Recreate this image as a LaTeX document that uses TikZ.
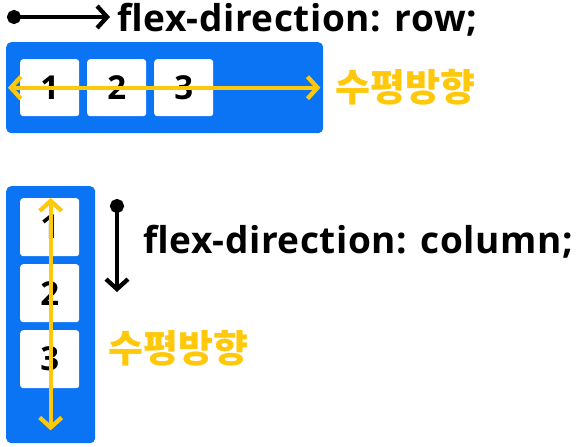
\documentclass[tikz,border=0pt]{standalone}
\usepackage{fontspec}
\setmainfont{Open Sans}[LetterSpace=1.5]
\newfontfamily\digitfont{Open Sans}
\newfontfamily\krfont{Noto Sans CJK KR}
\usetikzlibrary{arrows.meta,positioning}
\definecolor{flexblue}{RGB}{10,116,245}
\definecolor{flexyellow}{RGB}{255,200,10}

\begin{document}
\begin{tikzpicture}[
  x=1pt,
  y=-1pt,
  container/.style={fill=flexblue, rounded corners=5pt, inner sep=0pt, anchor=north west},
  item/.style={fill=white, rounded corners=3pt, minimum width=59pt, minimum height=57pt, inner sep=0pt, font=\digitfont\bfseries\fontsize{33}{33}\selectfont, anchor=north west},
  dirarr/.style={line width=4.3pt, {Circle[length=14pt]}-{Straight Barb[length=10pt,width=22pt]}},
  axisarr/.style={line width=4.3pt, draw=flexyellow, {Straight Barb[length=10pt,width=22pt]}-{Straight Barb[length=10pt,width=22pt]}},
  code/.style={font=\bfseries\fontsize{37}{37}\selectfont, inner sep=0pt, anchor=base west},
  axislabel/.style={font=\krfont\bfseries\fontsize{38}{38}\selectfont, text=flexyellow, inner sep=0pt, anchor=west}
]
\useasboundingbox (0,0) rectangle (582,447);

% row direction
\coordinate (rowstart) at (7,17);
\coordinate (rowend) at (110,17);
\draw[dirarr] (rowstart) -- (rowend);
\node[code] (rowcode) at (117,31) {flex-direction: row;};

\node[container, minimum width=317pt, minimum height=91pt] (rowbox) at (6,42) {};
\foreach \i in {1,2,3}
  \node[item] (r\i) at ({20+67*(\i-1)},59) {\i};
\draw[axisarr] ([xshift=2pt]rowbox.west) -- ([xshift=-3pt]rowbox.east);
\node[axislabel] (rowlabel) at (335,87) {수평방향};

% column direction
\node[container, minimum width=89pt, minimum height=257pt] (colbox) at (6,186) {};
\foreach \i in {1,2,3}
  \node[item, minimum height=58pt] (c\i) at (20,{198+66*(\i-1)}) {\i};
\draw[axisarr] ([yshift=-12pt]colbox.north) -- ([yshift=13pt]colbox.south);

\coordinate (colstart) at (117,199);
\coordinate (colend) at (117,292);
\draw[dirarr] (colstart) -- (colend);
\node[code] (colcode) at (143,253) {flex-direction: column;};
\node[axislabel] (collabel) at (108,348) {수평방향};

\end{tikzpicture}
\end{document}
